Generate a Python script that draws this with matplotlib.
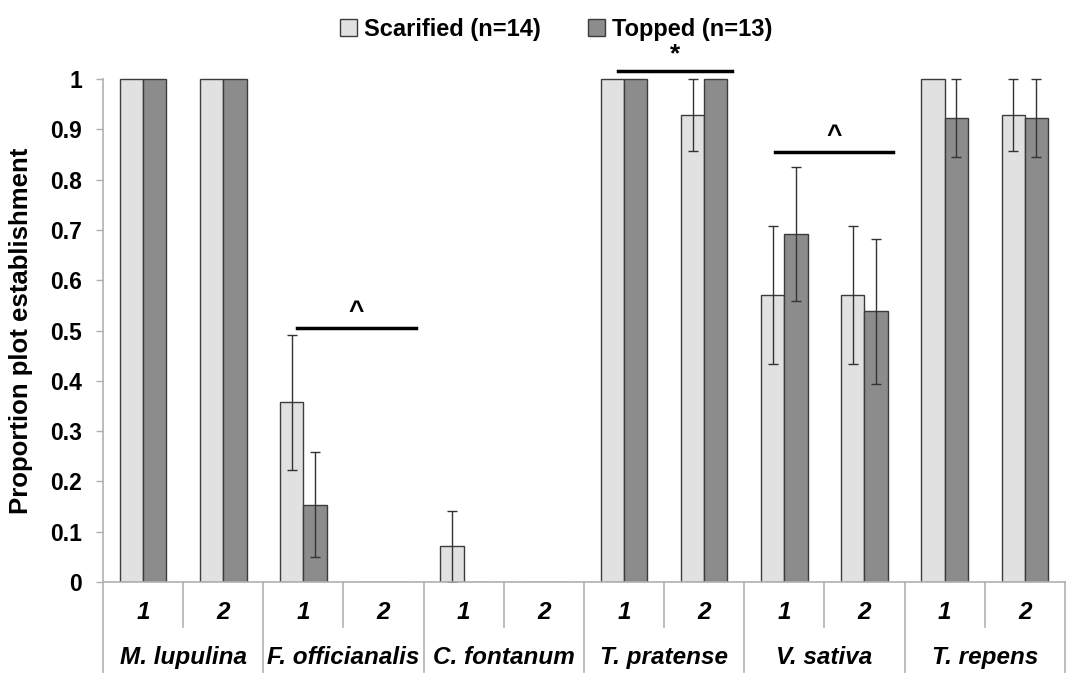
import matplotlib.pyplot as plt
import matplotlib.transforms as mtransforms
import numpy as np

plt.rcParams['font.family'] = ['Liberation Sans', 'DejaVu Sans']

# Data
species = ['M. lupulina', 'F. officianalis', 'C. fontanum',
           'T. pratense', 'V. sativa', 'T. repens']
sub_labels = ['1', '2']
scarified = [1.0, 1.0, 0.357, 0.0, 0.071, 0.0, 1.0, 0.929, 0.571, 0.571, 1.0, 0.929]
scarified_err = [0, 0, 0.134, 0, 0.071, 0, 0, 0.071, 0.137, 0.137, 0, 0.071]
topped = [1.0, 1.0, 0.154, 0.0, 0.0, 0.0, 1.0, 1.0, 0.692, 0.538, 0.923, 0.923]
topped_err = [0, 0, 0.104, 0, 0, 0, 0, 0, 0.133, 0.144, 0.077, 0.077]

# Significance bars: (x start, x end, y, symbol)
sig_marks = [(1.92, 3.40, 0.505, '^'), (5.92, 7.35, 1.017, '*'), (7.88, 9.35, 0.855, '^')]

LIGHT = '#e1e1e1'
DARK = '#8c8c8c'
EDGE = '#3c3c3c'
AXIS_GRAY = '#b0b0b0'

fig = plt.figure(figsize=(10.8, 6.86), dpi=100)
ax = fig.add_axes([0.0954, 0.1516, 0.8906, 0.7624])

x = np.arange(len(scarified))
w = 0.29
ax.bar(x - w / 2, scarified, w, color=LIGHT, edgecolor=EDGE, linewidth=1.0,
       label='Scarified (n=14)')
ax.bar(x + w / 2, topped, w, color=DARK, edgecolor=EDGE, linewidth=1.0,
       label='Topped (n=13)')

for xi, v, e in zip(x - w / 2, scarified, scarified_err):
    if e > 0:
        ax.errorbar(xi, v, yerr=e, fmt='none', ecolor='#333333', elinewidth=1.0, capsize=3.5)
for xi, v, e in zip(x + w / 2, topped, topped_err):
    if e > 0:
        ax.errorbar(xi, v, yerr=e, fmt='none', ecolor='#333333', elinewidth=1.0, capsize=3.5)

for x0, x1, y, sym in sig_marks:
    ax.plot([x0, x1], [y, y], color='black', linewidth=2.5, clip_on=False)
    ax.text((x0 + x1) / 2, y + 0.008, sym, ha='center', va='bottom',
            fontsize=19, fontweight='bold')

ax.set_xlim(-0.5, len(scarified) - 0.5)
ax.set_ylim(0, 1.04)
ax.set_yticks(np.arange(0, 1.01, 0.1))
ax.set_yticklabels(['0'] + [f'{v:.1f}' for v in np.arange(0.1, 0.95, 0.1)] + ['1'],
                   fontsize=16.5, fontweight='bold')
ax.tick_params(axis='y', length=5, width=1.0, color=AXIS_GRAY, pad=10)
ax.set_xticks([])
for s in ['top', 'right']:
    ax.spines[s].set_visible(False)
for s in ['bottom', 'left']:
    ax.spines[s].set_color(AXIS_GRAY)
    ax.spines[s].set_linewidth(1.2)
ax.spines['left'].set_bounds(0, 1)

ax.set_ylabel('Proportion plot establishment', fontsize=18.5, fontweight='bold')
ax.yaxis.set_label_coords(-0.073, 0.48)

# Two-level category axis
trans = mtransforms.blended_transform_factory(ax.transData, ax.transAxes)
for i in range(len(scarified) + 1):
    xb = i - 0.5
    low = -0.172 if i % 2 == 0 else -0.086
    ax.plot([xb, xb], [0, low], color=AXIS_GRAY, linewidth=1.2,
            transform=trans, clip_on=False)
for i in range(len(scarified)):
    ax.text(i, -0.059, sub_labels[i % 2], transform=trans, ha='center', va='center',
            fontsize=17.5, fontweight='bold', fontstyle='italic')
for j, name in enumerate(species):
    ax.text(2 * j + 0.5, -0.145, name, transform=trans, ha='center', va='center',
            fontsize=17.5, fontweight='bold', fontstyle='italic')

leg = fig.legend(loc='upper center', bbox_to_anchor=(0.515, 1.005), ncol=2, frameon=False,
                 prop={'size': 17, 'weight': 'bold'}, handlelength=0.7, handleheight=0.7,
                 handletextpad=0.3, columnspacing=2.0)

fig.savefig('out.png', dpi=100)
